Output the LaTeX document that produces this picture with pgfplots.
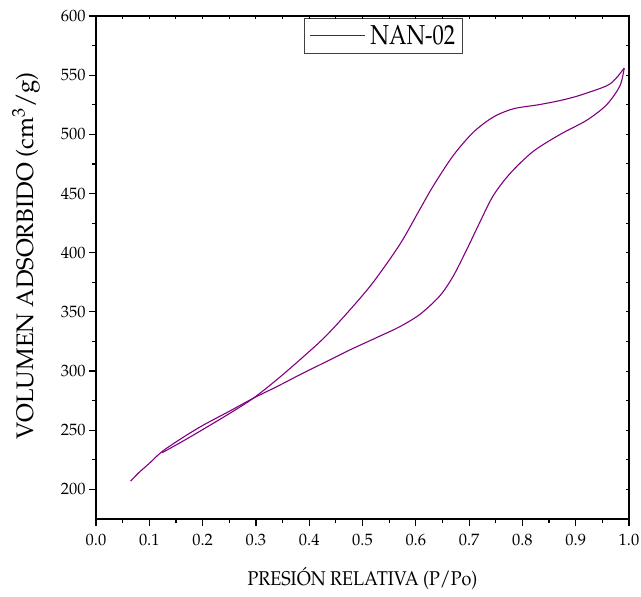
\documentclass[border=0pt]{standalone}
\usepackage[T1]{fontenc}
\usepackage{mathpazo}
\usepackage{pgfplots}
\pgfplotsset{compat=1.18}
\definecolor{pur}{RGB}{128,0,128}
\begin{document}
\begin{tikzpicture}
\path[use as bounding box] (-96bp,-78bp) rectangle (545bp,519bp);
\begin{axis}[
  scale only axis, width=533bp, height=503bp, at={(0,0)}, anchor=south west,
  xmin=0, xmax=1, ymin=175, ymax=600,
  axis line style={line width=1.5bp},
  every tick/.style={black, line width=1.2bp},
  xtick={0,0.1,0.2,0.3,0.4,0.5,0.6,0.7,0.8,0.9,1},
  xticklabels={0.0,0.1,0.2,0.3,0.4,0.5,0.6,0.7,0.8,0.9,1.0},
  ytick={200,250,300,350,400,450,500,550,600},
  minor x tick num=1, minor y tick num=1,
  xtick pos=left, ytick pos=left,
  tick align=outside, major tick length=7bp, minor tick length=4bp,
  ticklabel style={font=\fontsize{16.5}{16.5}\selectfont},
  xticklabel style={yshift=-5bp},
  xlabel={\scalebox{0.9}[1]{\fontsize{20}{20}\selectfont PRESI\'ON RELATIVA (P/Po)}},
  ylabel={\fontsize{24}{24}\selectfont VOLUMEN ADSORBIDO (cm$^3$/g)},
  every axis x label/.style={at={(axis description cs:0.5,-0.1332)}, anchor=base},
  every axis y label/.style={at={(axis description cs:-0.1313,0.523)}, rotate=90, anchor=center},
  legend style={at={(0.39,0.997)}, anchor=north west, draw=black!75, line width=0.8bp,
    font=\fontsize{27.5}{27.5}\selectfont, inner xsep=5bp, inner ysep=5.5bp},
  legend image code/.code={\draw[#1] (0bp,0bp) -- (55bp,0bp); \path (58bp,0bp);},
]
\addplot[pur, line width=1.1bp, smooth] coordinates {
(0.065,207) (0.08,214) (0.1,222) (0.124,232) (0.16,243) (0.2,254) (0.25,266)
(0.295,277) (0.34,287) (0.383,297) (0.43,307.5) (0.477,318) (0.53,329) (0.57,337.5)
(0.608,348) (0.645,363.5) (0.670,380) (0.696,403) (0.720,425.6) (0.745,448)
(0.777,467) (0.820,485.5) (0.871,500) (0.921,512) (0.958,525) (0.983,541) (0.991,556)
};
\addlegendentry{\scalebox{0.82}[1]{NAN-02}}
\addplot[pur, line width=1.1bp, smooth, forget plot] coordinates {
(0.991,556) (0.975,547) (0.958,541) (0.908,533) (0.871,528.6) (0.83,525)
(0.783,521.6) (0.745,514.5) (0.708,501.8) (0.670,482) (0.633,456.6) (0.608,437)
(0.570,407) (0.52,375) (0.477,352) (0.43,329) (0.383,309.7) (0.34,293)
(0.295,277) (0.25,264) (0.2,250.5) (0.16,240) (0.124,231)
};
\end{axis}
\begin{axis}[
  scale only axis, width=533bp, height=503bp, at={(0,0)}, anchor=south west,
  xmin=0, xmax=1, ymin=175, ymax=600,
  axis line style={draw=none},
  every tick/.style={black, line width=1bp},
  xtick={0,0.05,...,1.01}, ytick={175,200,...,600},
  xticklabels={}, yticklabels={},
  xtick pos=right, ytick pos=right,
  tick align=inside, major tick length=3bp,
]
\end{axis}
\end{tikzpicture}
\end{document}
